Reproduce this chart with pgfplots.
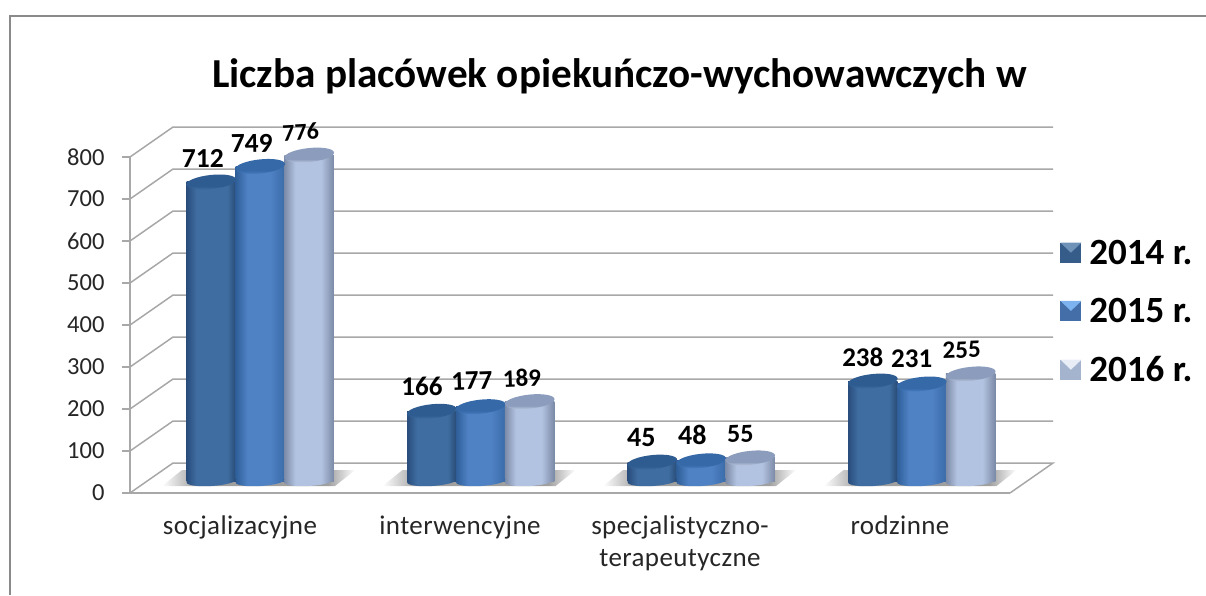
\documentclass[border=0pt]{standalone}
\usepackage{fontspec}
\setmainfont{Carlito}
\newfontfamily\lblfont[LetterSpace=1.5]{Carlito}
\usepackage{pgfplots}
\usepackage{pgfplotstable}
\pgfplotsset{compat=1.18}
\pgfplotsset{/pgf/number format/assume math mode=true}
\definecolor{gridc}{HTML}{A8A8A8}
\definecolor{bordc}{HTML}{8A8A8A}
\definecolor{ticktxt}{HTML}{262626}
% side shadings
\definecolor{aE}{HTML}{294D7C}\definecolor{aM}{HTML}{3F6DA2}\definecolor{aR}{HTML}{284A73}
\definecolor{bE}{HTML}{2F5E98}\definecolor{bM}{HTML}{4F82C5}\definecolor{bR}{HTML}{3A6BA8}
\definecolor{cE}{HTML}{7C8BA7}\definecolor{cM}{HTML}{B2C3E1}\definecolor{cR}{HTML}{7A89A5}
\pgfdeclarehorizontalshading{sa}{100bp}{color(0bp)=(aE);color(25bp)=(aE);color(35bp)=(aM);color(52bp)=(aM);color(66bp)=(aM);color(75bp)=(aR);color(100bp)=(aR)}
\pgfdeclarehorizontalshading{sb}{100bp}{color(0bp)=(bE);color(25bp)=(bE);color(37bp)=(bM);color(60bp)=(bM);color(75bp)=(bR);color(100bp)=(bR)}
\pgfdeclarehorizontalshading{sc}{100bp}{color(0bp)=(cE);color(25bp)=(cE);color(36bp)=(cM);color(62bp)=(cM);color(75bp)=(cR);color(100bp)=(cR)}
\definecolor{taT}{HTML}{2F5C90}\definecolor{taB}{HTML}{3F70A6}
\definecolor{tbT}{HTML}{3669A8}\definecolor{tbB}{HTML}{4A82C8}
\definecolor{tcT}{HTML}{8B9CBC}\definecolor{tcB}{HTML}{C6D2E8}
\pgfdeclareverticalshading{ta}{100bp}{color(0bp)=(taB);color(25bp)=(taB);color(38bp)=(taT);color(100bp)=(taT)}
\pgfdeclareverticalshading{tb}{100bp}{color(0bp)=(tbB);color(25bp)=(tbB);color(38bp)=(tbT);color(100bp)=(tbT)}
\pgfdeclareverticalshading{tc}{100bp}{color(0bp)=(tcB);color(25bp)=(tcB);color(38bp)=(tcT);color(100bp)=(tcT)}
\pgfdeclarehorizontalshading{floorsh}{100bp}{color(0bp)=(white);color(25bp)=(white);color(34bp)=(gray!75);color(68bp)=(gray!75);color(75bp)=(white);color(100bp)=(white)}
\newcommand{\cylmarks}[1]{%
 \pgfdeclareplotmark{top#1}{\pgfpathellipse{\pgfpointorigin}{\pgfpoint{24.8pt}{2.6pt}}{\pgfpoint{-0.6pt}{7pt}}\pgfshadepath{t#1}{0}\pgfusepath{discard}}%
 \pgfdeclareplotmark{base#1}{\pgfpathellipse{\pgfpointorigin}{\pgfpoint{24.6pt}{1.5pt}}{\pgfpoint{-0.2pt}{5pt}}\pgfshadepath{s#1}{0}\pgfusepath{discard}}}
\cylmarks{a}\cylmarks{b}\cylmarks{c}
\pgfplotsset{cyl/.style={forget plot,ybar,bar width=49.5pt,bar shift=0pt,draw=none,shade,shading=#1}}
\pgfplotstableread{
x y
-0.222 712
0.778 166
1.778 45
2.778 238
}\tablea
\pgfplotstableread{
x y
0 749
1 177
2 48
3 231
}\tableb
\pgfplotstableread{
x y
0.222 776
1.222 189
2.222 55
3.222 255
}\tablec
% value label: x, value, pixel offsets, size, rotation
\newcommand{\vlab}[6]{\node[anchor=center,inner sep=0pt,text=black,xshift=#3pt,yshift=#4pt,rotate=#6,font=\fontsize{#5}{#5}\selectfont\bfseries] at (axis cs:#1,#2) {#2};}
\begin{document}
\begin{tikzpicture}
\path[use as bounding box] (-130pt,-102pt) rectangle (1076pt,493pt);
\draw[bordc,line width=1.6pt] (-120pt,-102pt) -- (-120pt,477pt) -- (1076pt,477pt);
\node[font=\fontsize{41.2}{41.2}\selectfont\bfseries,text=black,anchor=center] at (489.5pt,417pt) {Liczba placówek opiekuńczo-wychowawczych w};
% frame axis: walls and tick labels
\begin{axis}[
 at={(0pt,0pt)},anchor=south west,scale only axis,width=880pt,height=336pt,
 xmin=-0.5,xmax=3.5,ymin=0,ymax=800,clip=false,
 axis x line*=bottom,axis y line*=left,
 axis line style={gridc,line width=1.5pt,-},
 ytick={0,100,...,800},
 xtick={0,1,2,3},
 xticklabels={socjalizacyjne,interwencyjne,{specjalistyczno-\\terapeutyczne},rodzinne},
 minor xtick={-0.5,0.5,1.5,2.5,3.5},
 major tick length=8pt,minor tick length=11pt,
 tick style={gridc,line width=1.5pt},
 xtick style={draw=none},
 minor x tick style={gridc,line width=1.5pt},
 tick align=outside,
 yticklabel style={font=\fontsize{24.5}{24.5}\selectfont,text=ticktxt,xshift=-14pt},
 xticklabel style={font=\lblfont\fontsize{27}{32}\selectfont,text=ticktxt,align=center,anchor=north,yshift=-11pt},
]
\addplot[gridc,line width=1.5pt] coordinates {(-0.5,0) (-0.3045,71.4) (3.6955,71.4) (3.5,0)};
\addplot[gridc,line width=1.5pt] coordinates {(-0.5,100) (-0.3045,171.4) (3.6955,171.4)};
\addplot[gridc,line width=1.5pt] coordinates {(-0.5,200) (-0.3045,271.4) (3.6955,271.4)};
\addplot[gridc,line width=1.5pt] coordinates {(-0.5,300) (-0.3045,371.4) (3.6955,371.4)};
\addplot[gridc,line width=1.5pt] coordinates {(-0.5,400) (-0.3045,471.4) (3.6955,471.4)};
\addplot[gridc,line width=1.5pt] coordinates {(-0.5,500) (-0.3045,571.4) (3.6955,571.4)};
\addplot[gridc,line width=1.5pt] coordinates {(-0.5,600) (-0.3045,671.4) (3.6955,671.4)};
\addplot[gridc,line width=1.5pt] coordinates {(-0.5,700) (-0.3045,771.4) (3.6955,771.4)};
\addplot[gridc,line width=1.5pt] coordinates {(-0.5,800) (-0.3045,871.4) (3.6955,871.4)};
\end{axis}
% bars axis, set forward into the 3-D depth
\begin{axis}[
 at={(20pt,12pt)},anchor=south west,scale only axis,width=882pt,height=336pt,
 xmin=-0.5,xmax=3.5,ymin=0,ymax=800,clip=false,
 axis lines=none,
 legend style={at={(1.032,0.7245)},anchor=north west,draw=none,fill=none,
   font=\fontsize{37}{37}\selectfont\bfseries,row sep=28.5pt,inner sep=0pt},
 legend cell align=left,
]
\addplot[forget plot,draw=none,shade,shading=floorsh] coordinates {(-0.446,-12) (0.339,-12) (0.43,26) (-0.355,26)} --cycle;
\addplot[forget plot,draw=none,shade,shading=floorsh] coordinates {(0.554,-12) (1.339,-12) (1.43,26) (0.645,26)} --cycle;
\addplot[forget plot,draw=none,shade,shading=floorsh] coordinates {(1.554,-12) (2.339,-12) (2.43,26) (1.645,26)} --cycle;
\addplot[forget plot,draw=none,shade,shading=floorsh] coordinates {(2.554,-12) (3.339,-12) (3.43,26) (2.645,26)} --cycle;
% 2014
\addplot[cyl=sa] coordinates {(-0.222,712)};
\addplot[cyl=sa] coordinates {(0.778,166)};
\addplot[cyl=sa] coordinates {(1.778,45)};
\addplot[cyl=sa] coordinates {(2.778,238)};
\addplot[only marks,mark=basea,forget plot] table[x=x,y expr=0]{\tablea};
\addplot[only marks,mark=topa,forget plot] table[x=x,y=y]{\tablea};
% 2015
\addplot[cyl=sb] coordinates {(0,749)};
\addplot[cyl=sb] coordinates {(1,177)};
\addplot[cyl=sb] coordinates {(2,48)};
\addplot[cyl=sb] coordinates {(3,231)};
\addplot[only marks,mark=baseb,forget plot] table[x=x,y expr=0]{\tableb};
\addplot[only marks,mark=topb,forget plot] table[x=x,y=y]{\tableb};
% 2016
\addplot[cyl=sc] coordinates {(0.222,776)};
\addplot[cyl=sc] coordinates {(1.222,189)};
\addplot[cyl=sc] coordinates {(2.222,55)};
\addplot[cyl=sc] coordinates {(3.222,255)};
\addplot[only marks,mark=basec,forget plot] table[x=x,y expr=0]{\tablec};
\addplot[only marks,mark=topc,forget plot] table[x=x,y=y]{\tablec};
% legend entries (one per year)
\addplot[draw=none,legend image code/.code={\fill[aM!85!black] (0pt,-10pt) rectangle (21pt,10pt);\fill[aM!75!white] (0pt,10pt)--(21pt,10pt)--(10.5pt,0pt)--cycle;}] coordinates {(0,712)};
\addlegendentry{\hspace*{6pt}2014 r.}
\addplot[draw=none,legend image code/.code={\fill[bM!85!black] (0pt,-10pt) rectangle (21pt,10pt);\definecolor{ktwo}{HTML}{7CB2EF}\fill[ktwo] (0pt,10pt)--(21pt,10pt)--(10.5pt,0pt)--cycle;}] coordinates {(0,749)};
\addlegendentry{\hspace*{6pt}2015 r.}
\addplot[draw=none,legend image code/.code={\fill[cM!92!black] (0pt,-10pt) rectangle (21pt,10pt);\fill[cM!30!white] (0pt,10pt)--(21pt,10pt)--(10.5pt,0pt)--cycle;}] coordinates {(0,776)};
\addlegendentry{\hspace*{6pt}2016 r.}
\vlab{-0.222}{712}{-8.5}{23}{27.5}{0}
\vlab{0}{749}{-8.5}{23}{27.5}{1}
\vlab{0.222}{776}{-8.5}{23}{24}{3}
\vlab{0.778}{166}{-9.8}{25.3}{27}{0}
\vlab{1}{177}{-8.8}{25.7}{27}{2}
\vlab{1.222}{189}{-7.8}{23.6}{25}{2}
\vlab{1.778}{45}{-11}{25}{28}{0}
\vlab{2}{48}{-9}{25.8}{28}{0}
\vlab{2.222}{55}{-10}{24}{26}{2}
\vlab{2.778}{238}{-10}{24}{27}{0}
\vlab{3}{231}{-10}{25}{27}{0}
\vlab{3.222}{255}{-9}{24}{25}{2}
\end{axis}
\end{tikzpicture}
\end{document}
